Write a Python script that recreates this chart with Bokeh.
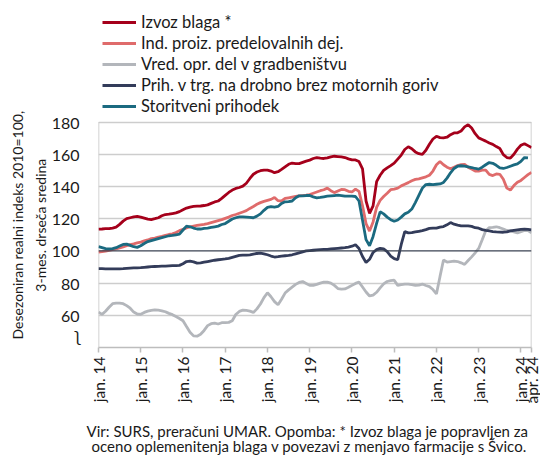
import math
from bokeh.plotting import figure
from bokeh.models import Range1d, FixedTicker, Span, Legend, LegendItem, LinearAxis
from bokeh.embed import file_html
from bokeh.resources import INLINE

FONT = "Lato"

# ---------------- data (monthly, Jan 2014 - Apr 2024) ----------------
izvoz = [
    113.5, 113.6, 113.8, 113.8, 114.2, 114.8, 116.5, 118.5, 120.0, 120.6, 121.2, 121.4,
    121.0, 120.4, 119.8, 119.5, 120.0, 120.6, 121.8, 122.6, 122.8, 123.2, 123.6, 124.4,
    125.6, 126.6, 127.2, 127.6, 127.8, 127.9, 128.2, 128.6, 129.5, 130.4, 131.0, 132.6,
    134.5, 136.3, 137.8, 138.8, 139.4, 140.2, 142.0, 145.0, 147.6, 149.0, 149.8, 150.2,
    150.2, 149.6, 148.6, 149.2, 150.6, 152.2, 153.8, 154.6, 154.2, 154.2, 155.0, 155.8,
    156.4, 157.4, 158.0, 157.6, 157.4, 157.8, 158.4, 158.8, 158.6, 158.4, 158.0, 157.2,
    156.5, 156.5, 155.5, 151.0, 131.0, 123.3, 128.0, 143.0, 147.0, 150.0, 151.6, 153.0,
    154.5, 157.0, 159.5, 163.0, 164.7, 163.5, 161.5, 160.4, 160.0, 162.5, 166.2, 169.5,
    171.2, 170.4, 170.2, 170.6, 172.2, 173.3, 173.4, 174.5, 177.0, 178.4, 176.3, 172.8,
    170.2, 169.2, 168.2, 167.0, 166.2, 164.8, 163.6, 159.8, 158.0, 157.6, 160.0, 163.2,
    165.6, 166.6, 165.4, 164.2,
]
predel = [
    99.3, 99.5, 99.9, 100.4, 100.8, 101.2, 101.8, 102.5, 103.2, 103.9, 104.4, 105.0,
    105.5, 106.2, 106.8, 107.6, 108.0, 108.6, 109.0, 109.6, 110.2, 110.6, 111.4, 112.6,
    113.4, 114.2, 115.0, 115.4, 115.8, 116.2, 116.5, 117.0, 117.6, 118.2, 118.8, 119.4,
    120.2, 121.0, 122.0, 122.6, 123.4, 124.2, 125.0, 126.4, 127.6, 129.0, 130.0, 130.8,
    131.4, 132.0, 133.2, 131.2, 131.0, 132.6, 133.0, 133.4, 133.8, 134.2, 134.4, 134.6,
    135.0, 135.8, 136.6, 137.4, 138.0, 139.0, 137.4, 136.2, 137.2, 138.2, 138.0, 137.0,
    136.6, 138.4, 137.0, 128.0, 117.0, 112.3, 118.0, 127.0, 131.4, 133.8, 135.8, 138.0,
    138.4, 139.0, 140.4, 141.4, 142.4, 143.6, 144.4, 144.8, 145.4, 146.0, 147.0, 149.6,
    153.5, 155.5, 153.5, 152.0, 151.0, 152.0, 153.0, 153.6, 153.8, 152.0, 150.8, 149.6,
    149.6, 150.2, 150.2, 147.5, 146.8, 147.8, 147.6, 144.5, 139.0, 137.8, 140.6, 142.7,
    143.8, 145.6, 147.4, 148.8,
]
gradb = [
    62.0, 60.6, 62.5, 65.0, 67.2, 67.6, 67.6, 67.2, 66.0, 64.4, 62.0, 60.8,
    60.6, 61.8, 62.6, 63.0, 63.4, 63.2, 62.8, 62.2, 61.2, 60.4, 59.2, 58.0,
    56.6, 53.0, 49.5, 47.2, 47.0, 48.2, 50.6, 53.6, 54.8, 55.2, 54.6, 55.4,
    55.4, 55.6, 56.6, 60.5, 62.4, 63.2, 63.0, 62.6, 61.8, 64.0, 67.0, 71.0,
    74.0, 71.5, 68.5, 66.5, 70.0, 73.8, 75.8, 77.5, 79.2, 80.4, 81.0, 79.8,
    78.6, 78.6, 79.2, 80.0, 80.6, 80.6, 80.0, 78.6, 76.6, 76.2, 76.4, 77.4,
    78.6, 79.8, 80.6, 77.6, 74.5, 72.0, 72.5, 74.3, 77.0, 79.5, 81.0, 81.5,
    81.8, 78.6, 79.0, 79.4, 79.4, 79.0, 78.6, 78.8, 79.4, 78.5, 77.8, 76.0,
    73.3, 84.0, 94.3, 93.1, 93.4, 93.7, 93.4, 92.6, 91.6, 94.0, 96.3, 98.8,
    101.5, 106.9, 112.5, 114.5, 114.6, 115.0, 114.4, 113.6, 112.7, 112.4, 111.8, 111.2,
    112.0, 112.7, 112.6, 111.2,
]
drobno = [
    89.0, 89.0, 88.9, 88.8, 88.8, 88.8, 88.9, 89.0, 89.2, 89.3, 89.4, 89.5,
    89.6, 89.8, 90.0, 90.2, 90.3, 90.4, 90.5, 90.6, 90.7, 90.8, 90.8, 91.0,
    92.0, 93.4, 93.6, 93.2, 92.4, 92.6, 93.0, 93.4, 93.8, 94.2, 94.5, 94.8,
    95.0, 95.4, 96.0, 96.6, 97.2, 97.4, 97.4, 97.6, 98.0, 98.4, 98.6, 98.2,
    97.6, 96.8, 96.2, 96.4, 96.8, 97.0, 97.2, 97.6, 98.2, 98.8, 99.4, 100.0,
    100.2, 100.4, 100.6, 100.8, 100.9, 101.0, 101.2, 101.4, 101.6, 101.8, 102.0, 102.4,
    102.9, 103.8, 101.5, 96.5, 92.8, 94.8, 99.0, 100.8, 101.6, 101.2, 99.6, 96.8,
    95.2, 94.5, 104.0, 112.0, 111.2, 111.4, 111.8, 112.2, 112.6, 113.2, 114.0, 114.2,
    114.2, 114.8, 115.1, 116.2, 117.6, 116.6, 116.0, 115.6, 115.5, 115.5, 115.2, 114.4,
    114.1, 113.2, 112.7, 112.4, 112.0, 111.8, 111.7, 111.6, 111.8, 112.4, 112.8, 113.1,
    113.4, 113.5, 113.4, 113.1,
]
storitve = [
    102.6, 102.0, 101.4, 101.2, 101.4, 102.0, 103.0, 104.0, 104.2, 103.4, 102.6, 102.2,
    103.2, 104.6, 105.8, 106.4, 107.0, 107.6, 108.2, 108.8, 109.4, 109.6, 110.0, 110.4,
    113.0, 115.4, 115.0, 114.2, 113.6, 113.6, 114.0, 114.2, 114.6, 115.0, 115.4, 116.4,
    117.0, 118.4, 119.8, 120.6, 121.2, 121.2, 121.0, 120.8, 120.6, 121.6, 123.0, 125.2,
    127.0, 127.5, 127.2, 127.6, 129.5, 130.5, 130.6, 131.0, 133.0, 134.2, 134.2, 134.4,
    134.4, 133.6, 133.0, 133.2, 133.6, 134.0, 134.2, 134.4, 134.6, 134.4, 134.0, 134.0,
    134.0, 133.8, 131.0, 119.0, 107.0, 103.2, 109.0, 117.1, 124.3, 123.0, 121.0, 119.4,
    118.4, 119.2, 121.0, 123.0, 124.0, 126.0, 130.0, 134.5, 139.0, 141.2, 141.4, 141.2,
    141.4, 141.6, 142.5, 145.2, 148.5, 151.2, 152.6, 152.9, 152.6, 152.2, 151.8, 151.2,
    150.8, 152.0, 153.5, 154.9, 154.4, 153.2, 151.6, 151.2, 151.8, 152.6, 153.4, 154.0,
    155.6, 158.0, 157.8, float("nan"),
]

series_names = [
    "Izvoz blaga *",
    "Ind. proiz. predelovalnih dej.",
    "Vred. opr. del v gradbeništvu",
    "Prih. v trg. na drobno brez motornih goriv",
    "Storitveni prihodek",
]
series_values = [izvoz, predel, gradb, drobno, storitve]
series_colors = ["#a5001b", "#df6b6b", "#b3b6bb", "#333c5a", "#1b6a80"]

months = list(range(len(izvoz)))
x_ticks = [0, 12, 24, 36, 48, 60, 72, 84, 96, 108, 120, 123]
x_tick_labels = ["jan. 14", "jan. 15", "jan. 16", "jan. 17", "jan. 18", "jan. 19",
                 "jan. 20", "jan. 21", "jan. 22", "jan. 23", "jan. 24", "apr. 24"]
grid_ticks = [60, 80, 100, 120, 140, 160, 180]
y_tick_labels = ["60", "80", "100", "120", "140", "160", "180"]
BREAK_TICK = 47.5          # position of the axis-break mark on the value axis
BREAK_MARK = "\u0285"

y_title_1 = "Desezoniran realni indeks 2010=100,"
y_title_2 = "3-mes. drseča sredina"
note_1 = "Vir: SURS, preračuni UMAR. Opomba: * Izvoz blaga je popravljen za"
note_2 = "oceno oplemenitenja blaga v povezavi z menjavo farmacije s Švico."

# ---------------- layout ----------------
NB = "\u00a0"
W, H = 540, 458
ML, MR, MT, MB = 98, 9, 2, 107
X0, X1 = 0, 123
Y0, Y1 = 40, 180
PLOT_TOP = 123                       # pixel row of the value 180
PX_PER_UNIT = (H - MB - PLOT_TOP) / (Y1 - Y0)
Y_TOP = Y1 + (PLOT_TOP - MT) / PX_PER_UNIT   # room above the plot area for the legend

p = figure(width=W, height=H, output_backend="svg", toolbar_location=None,
           x_range=Range1d(X0, X1), y_range=Range1d(Y0, Y_TOP),
           min_border_left=ML, min_border_right=MR, min_border_top=MT, min_border_bottom=MB)
p.background_fill_color = "white"
p.border_fill_color = "white"
p.outline_line_color = None

p.xgrid.visible = False
p.ygrid.ticker = FixedTicker(ticks=[t for t in grid_ticks if t != 100])
p.ygrid.grid_line_color = "#cdcdcd"
p.ygrid.grid_line_width = 1.5

# plot-area side borders (value range only)
p.segment(x0=[X0, X1], y0=[Y0, Y0], x1=[X0, X1], y1=[Y1, Y1],
          line_color="#c4c4c4", line_width=1.5)

# value axis (second title line as its label)
pad_y = NB * 28
p.yaxis.ticker = FixedTicker(ticks=[BREAK_TICK] + grid_ticks)
overrides = {t: l for t, l in zip(grid_ticks, y_tick_labels)}
overrides[BREAK_TICK] = BREAK_MARK
p.yaxis.major_label_overrides = overrides
p.yaxis.axis_line_color = None
p.yaxis.major_tick_line_color = None
p.yaxis.minor_tick_line_color = None
p.yaxis.major_label_standoff = 13
p.yaxis.major_label_text_font = FONT
p.yaxis.major_label_text_font_size = "16px"
p.yaxis.major_label_text_color = "#1a1a1a"
p.yaxis.axis_label = y_title_2 + pad_y
p.yaxis.axis_label_standoff = 0
p.yaxis.axis_label_text_font = FONT
p.yaxis.axis_label_text_font_size = "14px"
p.yaxis.axis_label_text_font_style = "normal"
p.yaxis.axis_label_text_color = "#1a1a1a"
p.yaxis.axis_label_text_line_height = 0.9

# outer, tick-less axis that carries the first title line
ax_title = LinearAxis(ticker=FixedTicker(ticks=[]), axis_label=y_title_1 + pad_y,
                      axis_line_color=None, major_tick_line_color=None,
                      minor_tick_line_color=None, major_tick_out=0, major_tick_in=0,
                      major_label_standoff=0, axis_label_standoff=3,
                      axis_label_text_font=FONT, axis_label_text_font_size="14px",
                      axis_label_text_font_style="normal", axis_label_text_color="#1a1a1a",
                      axis_label_text_line_height=0.9)
p.add_layout(ax_title, "left")

p.xaxis.ticker = FixedTicker(ticks=x_ticks)
p.xaxis.major_label_overrides = {t: l for t, l in zip(x_ticks, x_tick_labels)}
p.xaxis.major_label_orientation = math.pi / 2
p.xaxis.axis_line_color = "#bdbdbd"
p.xaxis.axis_line_width = 1.5
p.xaxis.major_tick_line_color = "#bdbdbd"
p.xaxis.major_tick_line_width = 1.5
p.xaxis.major_tick_in = 0
p.xaxis.major_tick_out = 5
p.xaxis.minor_tick_line_color = None
p.xaxis.major_label_standoff = 4
p.xaxis.major_label_text_font = FONT
p.xaxis.major_label_text_font_size = "15.5px"
p.xaxis.major_label_text_color = "#1a1a1a"
p.xaxis.axis_label = note_1 + NB * 4 + "\n" + note_2 + NB * 3
p.xaxis.axis_label_standoff = 15
p.xaxis.axis_label_text_font = FONT
p.xaxis.axis_label_text_font_size = "15px"
p.xaxis.axis_label_text_font_style = "normal"
p.xaxis.axis_label_text_color = "#1a1a1a"
p.xaxis.axis_label_text_line_height = 0.88

p.add_layout(Span(location=100, dimension="width", line_color="#3a4252", line_width=1.2))

items = []
for name, vals, col in zip(series_names, series_values, series_colors):
    r = p.line(months, vals, line_color=col, line_width=2.8)
    items.append(LegendItem(label=name, renderers=[r]))

legend = Legend(items=items, location=(4, H - MB - 120), orientation="vertical",
                padding=0, margin=0, spacing=1, label_height=16, glyph_height=16,
                glyph_width=34, label_standoff=5,
                label_text_font=FONT, label_text_font_size="16.5px", label_text_color="#1a1a1a",
                border_line_color=None, background_fill_alpha=0)
p.add_layout(legend, "center")

open("out.html", "w").write(file_html(p, INLINE))
